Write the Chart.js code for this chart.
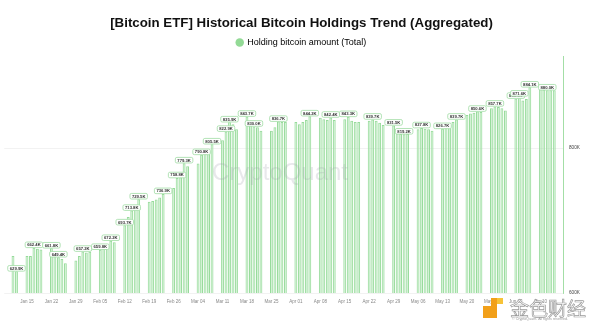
<!DOCTYPE html>
<html>
<head>
<meta charset="utf-8">
<script src="https://cdn.jsdelivr.net/npm/chart.js"></script>
<style>
  html, body { margin: 0; padding: 0; background: #fff; }
  #holder { width: 600px; height: 330px; }
</style>
</head>
<body>
<div id="holder"><canvas id="etfChart" width="600" height="330"></canvas></div>
<script>
// trading days and total ETF holdings (thousand BTC)
const tradeDays = [
  'Jan 11','Jan 12',
  'Jan 15','Jan 16','Jan 17','Jan 18','Jan 19',
  'Jan 22','Jan 23','Jan 24','Jan 25','Jan 26',
  'Jan 29','Jan 30','Jan 31','Feb 01','Feb 02',
  'Feb 05','Feb 06','Feb 07','Feb 08','Feb 09',
  'Feb 12','Feb 13','Feb 14','Feb 15','Feb 16',
  'Feb 19','Feb 20','Feb 21','Feb 22','Feb 23',
  'Feb 26','Feb 27','Feb 28','Feb 29','Mar 01',
  'Mar 04','Mar 05','Mar 06','Mar 07','Mar 08',
  'Mar 11','Mar 12','Mar 13','Mar 14','Mar 15',
  'Mar 18','Mar 19','Mar 20','Mar 21','Mar 22',
  'Mar 25','Mar 26','Mar 27','Mar 28','Mar 29',
  'Apr 01','Apr 02','Apr 03','Apr 04','Apr 05',
  'Apr 08','Apr 09','Apr 10','Apr 11','Apr 12',
  'Apr 15','Apr 16','Apr 17','Apr 18','Apr 19',
  'Apr 22','Apr 23','Apr 24','Apr 25','Apr 26',
  'Apr 29','Apr 30','May 01','May 02','May 03',
  'May 06','May 07','May 08','May 09','May 10',
  'May 13','May 14','May 15','May 16','May 17',
  'May 20','May 21','May 22','May 23','May 24',
  'May 27','May 28','May 29','May 30','May 31',
  'Jun 03','Jun 04','Jun 05','Jun 06','Jun 07',
  'Jun 10','Jun 11','Jun 12','Jun 13','Jun 14'
];
const holdings = [
  651, 629.9,
  651, 651, 662.4, 661, 660,
  661.8, 652, 649.4, 647, 641,
  645, 651, 657.2, 656, 657,
  659.8, 663, 666, 672.2, 670,
  693.7, 705, 713.8, 719, 729.5,
  726, 727, 729, 732, 736.9,
  745, 758.8, 760, 779.3, 775,
  779, 790.8, 792, 798, 805.5,
  811, 822.9, 835.9, 833, 826,
  843.7, 833, 830.0, 829, 824,
  824, 829, 836.7, 836, 836,
  836, 833, 836, 839, 844.2,
  842, 840, 839, 842.4, 839,
  840, 843.3, 838, 836, 836,
  838, 839.7, 838, 835, 832,
  831.5, 826, 820, 819.2, 820,
  826, 827.8, 827, 826, 824,
  826.7, 828, 832, 836, 839.7,
  846, 848, 849, 850.6, 850,
  855, 857.7, 857, 855, 852,
  868.5, 871.6, 866, 868, 884.1,
  882, 881, 880.0, 880, 880
];
// days that carry a value tag
const labelDays = [
  'Jan 12','Jan 17','Jan 22','Jan 24','Jan 31','Feb 05','Feb 08',
  'Feb 12','Feb 14','Feb 16','Feb 23','Feb 27','Feb 29','Mar 05','Mar 08',
  'Mar 12','Mar 13','Mar 18','Mar 20','Mar 27','Apr 05','Apr 11','Apr 16',
  'Apr 23','Apr 29','May 02','May 07','May 13','May 17','May 23','May 28',
  'Jun 03','Jun 04','Jun 07','Jun 12'
];
const tickLabels = [
  'Jan 15','Jan 22','Jan 29','Feb 05','Feb 12','Feb 19','Feb 26','Mar 04',
  'Mar 11','Mar 18','Mar 25','Apr 01','Apr 08','Apr 15','Apr 22','Apr 29',
  'May 06','May 13','May 20','May 27','Jun 03','Jun 10'
];
const yTicks = [600, 800];

// calendar axis, weekends stay empty
const monthNames = ['Jan','Feb','Mar','Apr','May','Jun','Jul','Aug','Sep','Oct','Nov','Dec'];
const days = [];
for (let d = new Date(2024, 0, 9); d <= new Date(2024, 5, 16); d.setDate(d.getDate() + 1)) {
  days.push(monthNames[d.getMonth()] + ' ' + String(d.getDate()).padStart(2, '0'));
}
const values = days.map(d => {
  const i = tradeDays.indexOf(d);
  return i < 0 ? null : holdings[i];
});

const FONT = '"Liberation Sans", Arial, sans-serif';

const tags = {
  id: 'tags',
  afterDatasetsDraw(chart) {
    const ctx = chart.ctx;
    const meta = chart.getDatasetMeta(0);
    ctx.save();
    ctx.font = '600 4.2px ' + FONT;
    ctx.textAlign = 'center';
    ctx.textBaseline = 'middle';
    labelDays.forEach(d => {
      const idx = days.indexOf(d);
      const bar = meta.data[idx];
      const txt = values[idx].toFixed(1) + 'K';
      const w = ctx.measureText(txt).width + 4;
      const h = 5.6;
      const cx = bar.x, cy = bar.y - 3;
      ctx.beginPath();
      ctx.roundRect(cx - w / 2, cy - h / 2, w, h, 1.5);
      ctx.fillStyle = '#fff';
      ctx.fill();
      ctx.strokeStyle = '#9fdca3';
      ctx.lineWidth = 0.8;
      ctx.stroke();
      ctx.fillStyle = '#333';
      ctx.fillText(txt, cx, cy + 0.2);
    });
    ctx.restore();
  },
  afterDraw(chart) {
    const ctx = chart.ctx;
    ctx.save();
    // CryptoQuant watermark
    ctx.font = '24px ' + FONT;
    ctx.fillStyle = 'rgba(150,150,165,0.22)';
    ctx.textAlign = 'center';
    ctx.textBaseline = 'middle';
    ctx.fillText('CryptoQuant', 280, 173);
    // copyright line
    ctx.font = '3.6px ' + FONT;
    ctx.fillStyle = '#999';
    ctx.fillText('© CryptoQuant. All rights reserved.', 540, 319);
    // news site stamp
    ctx.fillStyle = '#f2a019';
    ctx.fillRect(483, 306, 14, 12);
    ctx.fillRect(491, 298, 6, 10);
    ctx.fillStyle = '#f7c338';
    ctx.fillRect(497, 298, 6, 6);
    ctx.font = '19px "Noto Sans CJK SC"';
    ctx.textAlign = 'left';
    ctx.fillStyle = 'rgba(255,255,255,0.75)';
    ctx.fillText('金色财经', 510, 309);
    ctx.strokeStyle = '#9a9a9a';
    ctx.lineWidth = 0.7;
    ctx.strokeText('金色财经', 510, 309);
    ctx.restore();
  }
};

new Chart(document.getElementById('etfChart'), {
  type: 'bar',
  data: {
    labels: days,
    datasets: [{
      label: 'Holding bitcoin amount (Total)',
      data: values,
      backgroundColor: 'rgba(176, 232, 180, 0.55)',
      borderColor: '#97db9b',
      borderWidth: 1,
      barPercentage: 0.82,
      categoryPercentage: 1
    }]
  },
  options: {
    responsive: false,
    animation: false,
    devicePixelRatio: 1,
    layout: { padding: { left: 3, right: 0, top: 0, bottom: 0 } },
    plugins: {
      title: {
        display: true,
        text: '[Bitcoin ETF] Historical Bitcoin Holdings Trend (Aggregated)',
        color: '#111',
        font: { family: FONT, size: 13.3, weight: 'bold' },
        padding: { top: 15, bottom: 2 }
      },
      legend: {
        labels: {
          color: '#333',
          font: { family: FONT, size: 9 },
          usePointStyle: true,
          boxWidth: 6,
          boxHeight: 6,
          padding: 5,
          generateLabels: chart => [{
            text: chart.data.datasets[0].label,
            fillStyle: '#93da96',
            strokeStyle: '#93da96',
            lineWidth: 0,
            pointStyle: 'circle',
            datasetIndex: 0
          }]
        }
      },
      tooltip: { enabled: false }
    },
    scales: {
      x: {
        offset: true,
        grid: { display: false, drawTicks: false },
        border: { display: false },
        ticks: {
          autoSkip: false,
          maxRotation: 0,
          padding: 6,
          color: '#888',
          font: { family: FONT, size: 4.5 },
          callback: function (v) {
            const l = this.getLabelForValue(v);
            return tickLabels.includes(l) ? l : '';
          }
        },
        afterFit: s => { s.height = 37; }
      },
      y: {
        position: 'right',
        min: 600,
        max: 926,
        afterBuildTicks: s => { s.ticks = yTicks.map(v => ({ value: v })); },
        grid: { color: '#efefef', lineWidth: 0.8, drawTicks: false },
        border: { color: '#a3dea6', width: 1 },
        ticks: {
          padding: 6,
          color: '#444',
          font: { family: FONT, size: 4.7 },
          callback: v => v + 'K'
        },
        afterFit: s => { s.width = 37; }
      }
    }
  },
  plugins: [tags]
});
</script>
</body>
</html>
